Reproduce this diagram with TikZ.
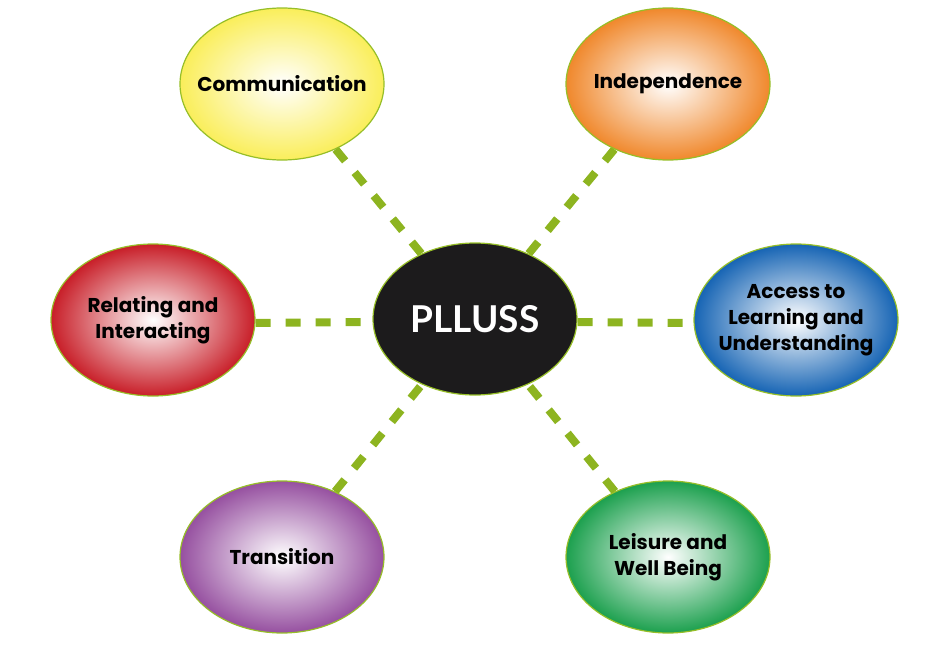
\documentclass[tikz,border=0pt]{standalone}
\usepackage{fontspec}
\setmainfont{Poppins}
\newfontfamily\hubfont{Lato}
\usetikzlibrary{shapes.geometric,backgrounds}
\definecolor{linkgreen}{RGB}{141,180,32}
\definecolor{rimgreen}{RGB}{150,190,40}
\definecolor{cYellow}{RGB}{250,238,90}
\definecolor{cOrange}{RGB}{240,136,44}
\definecolor{cRed}{RGB}{200,30,40}
\definecolor{cBlue}{RGB}{22,100,180}
\definecolor{cPurple}{RGB}{150,80,160}
\definecolor{cGreen}{RGB}{28,160,78}
\definecolor{hubblack}{RGB}{28,27,28}
\tikzset{
  topic/.style={ellipse, minimum width=204pt, minimum height=152pt,
    inner xsep=-40pt, inner ysep=0pt,
    draw=rimgreen, line width=1.2pt, inner color=white, outer color=#1,
    font=\fontsize{20}{26}\selectfont\bfseries, align=center, text=black},
  hub/.style={ellipse, minimum width=204pt, minimum height=152pt, inner sep=0pt,
    draw=rimgreen, line width=1.2pt, fill=hubblack, text=white,
    font=\hubfont\fontsize{37}{40}\selectfont\bfseries},
  link/.style={draw=linkgreen, line width=8pt, dash pattern=on 15pt off 15pt}
}
\begin{document}
\begin{tikzpicture}[x=1pt,y=-1pt]
\useasboundingbox (0,0) rectangle (929,645);
\node[hub] (hub) at (475,319) {PLLUSS};
\node[topic=cYellow] (comm) at (282,84) {Communication};
\node[topic=cOrange] (indep) at (668,84) {Independence};
\node[topic=cRed] (relat) at (153,320) {Relating and\\Interacting};
\node[topic=cBlue] (access) at (796,320) {Access to\\Learning and\\Understanding};
\node[topic=cPurple] (trans) at (282,557) {Transition};
\node[topic=cGreen] (leis) at (668,557) {Leisure and\\Well Being};
\begin{scope}[on background layer]
\draw[link] (comm) -- (hub);
\draw[link] (indep) -- (hub);
\draw[link] ([yshift=-3pt]relat.east) -- ([yshift=-3pt]hub.west);
\draw[link] ([yshift=-3pt]hub.east) -- ([yshift=-3pt]access.west);
\draw[link] (trans) -- (hub);
\draw[link] (leis) -- (hub);
\end{scope}
\end{tikzpicture}
\end{document}
